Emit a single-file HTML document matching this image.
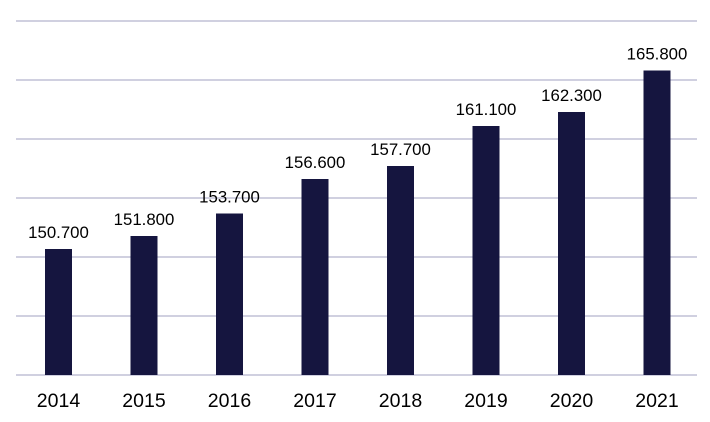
<!DOCTYPE html>
<html><head><style>body{margin:0;background:#fff}</style></head><body>
<svg width="710" height="422" xmlns="http://www.w3.org/2000/svg" style="display:block;font-family:'Liberation Sans',Arial,sans-serif">
<g stroke="#d0d0e0" stroke-width="2">
<line x1="16" x2="697" y1="21" y2="21"/><line x1="16" x2="697" y1="80" y2="80"/>
<line x1="16" x2="697" y1="139" y2="139"/><line x1="16" x2="697" y1="198" y2="198"/>
<line x1="16" x2="697" y1="257" y2="257"/><line x1="16" x2="697" y1="316" y2="316"/>
<line x1="16" x2="697" y1="375" y2="375"/>
</g>
<g fill="#15153f">
<rect x="45" y="249" width="27" height="126"/>
<rect x="130.5" y="236" width="27" height="139"/>
<rect x="216" y="213.5" width="27" height="161.5"/>
<rect x="301.5" y="179" width="27" height="196"/>
<rect x="387" y="166" width="27" height="209"/>
<rect x="472.5" y="126" width="27" height="249"/>
<rect x="558" y="112" width="27" height="263"/>
<rect x="643.5" y="70.5" width="27" height="304.5"/>
</g>
<g font-size="16.8" text-anchor="middle" fill="#000">
<text x="58.5" y="238">150.700</text>
<text x="144" y="225">151.800</text>
<text x="229.5" y="202.5">153.700</text>
<text x="315" y="168">156.600</text>
<text x="400.5" y="155">157.700</text>
<text x="486" y="115">161.100</text>
<text x="571.5" y="101">162.300</text>
<text x="657" y="59.5">165.800</text>
</g>
<g font-size="19.5" text-anchor="middle" fill="#000">
<text x="58.5" y="407">2014</text><text x="144" y="407">2015</text>
<text x="229.5" y="407">2016</text><text x="315" y="407">2017</text>
<text x="400.5" y="407">2018</text><text x="486" y="407">2019</text>
<text x="571.5" y="407">2020</text><text x="657" y="407">2021</text>
</g>
</svg>
</body></html>
